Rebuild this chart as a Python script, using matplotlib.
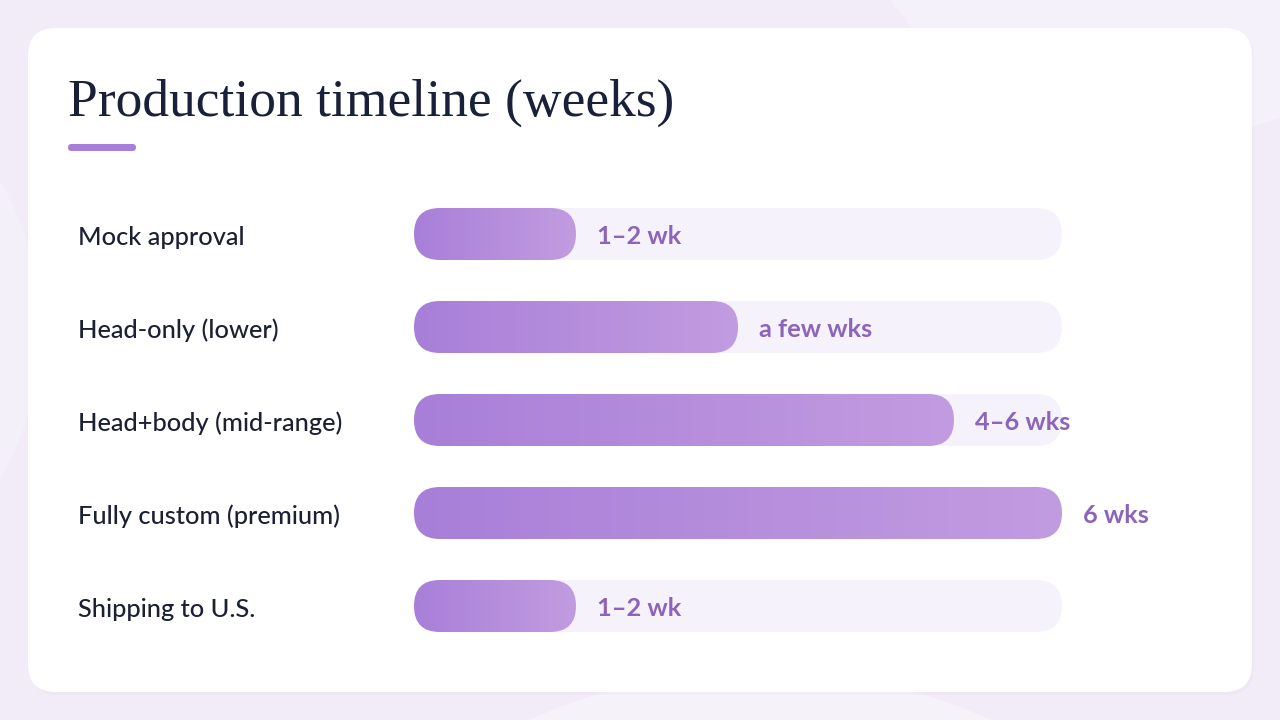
import numpy as np
import matplotlib.pyplot as plt
from matplotlib.patches import FancyBboxPatch, Circle
from matplotlib.colors import LinearSegmentedColormap

# data
stages = ['Mock approval', 'Head-only (lower)', 'Head+body (mid-range)',
          'Fully custom (premium)', 'Shipping to U.S.']
weeks = [1.5, 3, 5, 6, 1.5]
value_labels = ['1–2 wk', 'a few wks', '4–6 wks', '6 wks', '1–2 wk']
max_weeks = 6

title = 'Production timeline (weeks)'

BG = '#f1ecf8'
TRACK = '#f6f2fb'
LABEL = '#1b2033'
VALUE = '#8c64b9'
grad = LinearSegmentedColormap.from_list('bar', ['#a87fd8', '#c29ce1'])

fig = plt.figure(figsize=(12.8, 7.2), dpi=100)
fig.patch.set_facecolor(BG)

# background shapes and card (pixel space)
bg = fig.add_axes([0, 0, 1, 1])
bg.set_xlim(0, 1280)
bg.set_ylim(720, 0)
bg.axis('off')
bg.add_patch(Circle((1160, -190), 330, color='#f5f1fa', lw=0))
bg.add_patch(Circle((760, 1230), 560, color='#f6f2fa', lw=0))
bg.add_patch(Circle((-260, 330), 300, color='#f4f0f9', lw=0))
bg.add_patch(FancyBboxPatch((30, 31), 1224, 664, boxstyle='round,pad=0,rounding_size=28',
                            fc='#e9e2f3', ec='none', alpha=0.35))
bg.add_patch(FancyBboxPatch((28, 28), 1224, 664, boxstyle='round,pad=0,rounding_size=28',
                            fc='white', ec='none'))
bg.add_patch(FancyBboxPatch((68, 144), 68, 7, boxstyle='round,pad=0,rounding_size=3.5',
                            fc='#a77fd8', ec='none'))

fig.text(68 / 1280, 1 - 116 / 720, title, fontsize=38.5, family='Liberation Serif',
         color='#18203a', va='baseline', ha='left')

# bar axes: 0..6 weeks spans x 414..1062 px, rows spaced 93 px
n = len(stages)
ax = fig.add_axes([414 / 1280, (720 - 652.5) / 720, 648 / 1280, 465 / 720])
ax.set_xlim(0, max_weeks)
ax.set_ylim(n - 0.5, -0.5)
ax.axis('off')

bar_h = 52 / 93
px_x = max_weeks / 648
px_y = 1 / 93
rad = 26 * px_x
asp = px_y / px_x

for i, (stage, v, lab) in enumerate(zip(stages, weeks, value_labels)):
    track = FancyBboxPatch((0, i - bar_h / 2), max_weeks, bar_h,
                           boxstyle=f'round,pad=0,rounding_size={rad}',
                           mutation_aspect=asp, fc=TRACK, ec='none', zorder=1)
    ax.add_patch(track)
    bar = FancyBboxPatch((0, i - bar_h / 2), v, bar_h,
                         boxstyle=f'round,pad=0,rounding_size={rad}',
                         mutation_aspect=asp, fc='none', ec='none', zorder=2)
    ax.add_patch(bar)
    im = ax.imshow(np.linspace(0, 1, 256).reshape(1, -1), cmap=grad, aspect='auto',
                   extent=[0, v, i + bar_h / 2, i - bar_h / 2], interpolation='bicubic',
                   zorder=3)
    im.set_clip_path(bar)
    ax.annotate(lab, xy=(v, i), xytext=(15, -1.5), textcoords='offset points',
                va='center', ha='left', fontsize=18.3, fontweight='bold',
                family='Lato', color=VALUE, annotation_clip=False, zorder=4)
    ax.annotate(stage, xy=(0, i), xytext=(-(414 - 78) * 0.72, -2.5), textcoords='offset points',
                va='center', ha='left', fontsize=18.3, fontweight='medium',
                family='Lato', color=LABEL, annotation_clip=False)

ax.set_xlim(0, max_weeks)
ax.set_ylim(n - 0.5, -0.5)

fig.savefig('out.png', dpi=100, facecolor=fig.get_facecolor())
